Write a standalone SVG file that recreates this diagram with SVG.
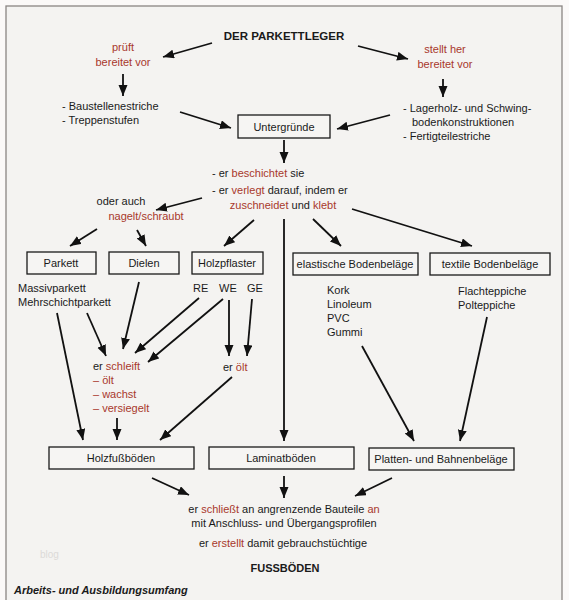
<svg xmlns="http://www.w3.org/2000/svg" width="569" height="600" viewBox="0 0 569 600">
<defs>
<marker id="ah" markerUnits="userSpaceOnUse" markerWidth="12" markerHeight="10" refX="11" refY="4.5" orient="auto">
<path d="M0,0 L11,4.5 L0,9 z" fill="#111"/>
</marker>
<style>
text{font-family:"Liberation Sans",Arial,sans-serif;font-size:11px;fill:#1a1a1a}
.r{fill:#a8382c}
.c{text-anchor:middle}
.b{font-weight:bold}
.box{fill:#f6f5f3;stroke:#1a1a1a;stroke-width:1.3}
.con line{stroke:#111;stroke-width:1.8;marker-end:url(#ah)}
</style>
</defs>
<rect x="0" y="0" width="569" height="600" fill="#fbf9f8"/>
<rect x="6" y="6" width="556" height="600" fill="#f4f3f1" stroke="#8a8683" stroke-width="1.3"/>

<g id="title"><text class="c b" x="284" y="40" style="font-size:11.5px">DER PARKETTLEGER</text></g>
<g id="pruft"><text class="c r" x="123" y="51">prüft</text><text class="c r" x="123" y="66">bereitet vor</text></g>
<g id="stellt"><text class="c r" x="445" y="53">stellt her</text><text class="c r" x="445" y="68">bereitet vor</text></g>
<g id="baustellen"><text x="62" y="110">- Baustellenestriche</text><text x="62" y="124">- Treppenstufen</text></g>
<g id="lagerholz"><text x="403" y="112">- Lagerholz- und Schwing-</text><text x="412" y="126">bodenkonstruktionen</text><text x="403" y="140">- Fertigteilestriche</text></g>
<g id="untergruende"><rect class="box" x="238" y="115" width="92" height="23"/><text class="c" x="284" y="131">Untergründe</text></g>
<g id="verlegt">
<text x="212" y="177">- er <tspan class="r">beschichtet</tspan> sie</text>
<text x="212" y="194">- er <tspan class="r">verlegt</tspan> darauf, indem er</text>
<text class="c" x="283" y="209"><tspan class="r">zuschneidet</tspan> und <tspan class="r">klebt</tspan></text>
</g>
<g id="oderauch"><text class="c" x="121" y="205">oder auch</text><text class="c r" x="146" y="220">nagelt/schraubt</text></g>
<g id="parkett"><rect class="box" x="27" y="252" width="69" height="22"/><text class="c" x="61" y="267">Parkett</text></g>
<g id="dielen"><rect class="box" x="109" y="252" width="70" height="22"/><text class="c" x="144" y="267">Dielen</text></g>
<g id="holzpflaster"><rect class="box" x="192" y="252" width="71" height="22"/><text class="c" x="227" y="267">Holzpflaster</text></g>
<g id="elastisch"><rect class="box" x="293" y="253" width="125" height="22"/><text class="c" x="355" y="268">elastische Bodenbeläge</text></g>
<g id="textil"><rect class="box" x="430" y="253" width="120" height="22"/><text class="c" x="490" y="268">textile Bodenbeläge</text></g>
<g id="parkettarten"><text x="18" y="292">Massivparkett</text><text x="18" y="306">Mehrschichtparkett</text></g>
<g id="rewege"><text x="193" y="292">RE</text><text x="219" y="292">WE</text><text x="247" y="292">GE</text></g>
<g id="elastarten"><text x="327" y="294">Kork</text><text x="327" y="308">Linoleum</text><text x="327" y="322">PVC</text><text x="327" y="336">Gummi</text></g>
<g id="teppiche"><text x="458" y="295">Flachteppiche</text><text x="458" y="309">Polteppiche</text></g>
<g id="schleift">
<text x="93" y="370">er <tspan class="r">schleift</tspan></text>
<text class="r" x="93" y="384">– ölt</text>
<text class="r" x="93" y="398">– wachst</text>
<text class="r" x="93" y="412">– versiegelt</text>
</g>
<g id="eroelt"><text x="223" y="371">er <tspan class="r">ölt</tspan></text></g>
<g id="holzfuss"><rect class="box" x="49" y="447" width="145" height="22"/><text class="c" x="121" y="462">Holzfußböden</text></g>
<g id="laminat"><rect class="box" x="209" y="447" width="145" height="22"/><text class="c" x="281" y="462">Laminatböden</text></g>
<g id="platten"><rect class="box" x="369" y="448" width="145" height="22"/><text class="c" x="441" y="463">Platten- und Bahnenbeläge</text></g>
<g id="abschluss">
<text class="c" x="284" y="513">er <tspan class="r">schließt</tspan> an angrenzende Bauteile <tspan class="r">an</tspan></text>
<text class="c" x="284" y="527">mit Anschluss- und Übergangsprofilen</text>
<text class="c" x="283" y="547">er <tspan class="r">erstellt</tspan> damit gebrauchstüchtige</text>
<text class="c b" x="285" y="572">FUSSBÖDEN</text>
</g>
<g id="watermark"><text x="40" y="558" style="fill:#dcdad8;font-size:10px">blog</text></g>
<g id="caption"><text class="b" x="14" y="594" style="font-style:italic">Arbeits- und Ausbildungsumfang</text></g>

<g class="con" id="connectors">
<line x1="212" y1="43" x2="163" y2="57"/>
<line x1="358" y1="46" x2="408" y2="59"/>
<line x1="123" y1="74" x2="123" y2="96"/>
<line x1="443" y1="79" x2="443" y2="97"/>
<line x1="180" y1="112" x2="231" y2="128"/>
<line x1="390" y1="115" x2="337" y2="129"/>
<line x1="284" y1="140" x2="284" y2="163"/>
<line x1="202" y1="198" x2="156" y2="210"/>
<line x1="97" y1="229" x2="70" y2="246"/>
<line x1="137" y1="230" x2="146" y2="246"/>
<line x1="254" y1="220" x2="224" y2="246"/>
<line x1="284" y1="219" x2="284" y2="441"/>
<line x1="313" y1="219" x2="341" y2="246"/>
<line x1="352" y1="209" x2="472" y2="246"/>
<line x1="57" y1="313" x2="83" y2="440"/>
<line x1="87" y1="313" x2="106" y2="356"/>
<line x1="139" y1="282" x2="123" y2="349"/>
<line x1="199" y1="298" x2="135" y2="353"/>
<line x1="223" y1="299" x2="148" y2="362"/>
<line x1="229" y1="300" x2="229" y2="356"/>
<line x1="252" y1="299" x2="247" y2="356"/>
<line x1="117" y1="418" x2="117" y2="440"/>
<line x1="232" y1="377" x2="160" y2="440"/>
<line x1="362" y1="346" x2="414" y2="441"/>
<line x1="487" y1="317" x2="460" y2="441"/>
<line x1="152" y1="478" x2="189" y2="495"/>
<line x1="284" y1="476" x2="284" y2="498"/>
<line x1="392" y1="478" x2="355" y2="496"/>
</g>
</svg>
